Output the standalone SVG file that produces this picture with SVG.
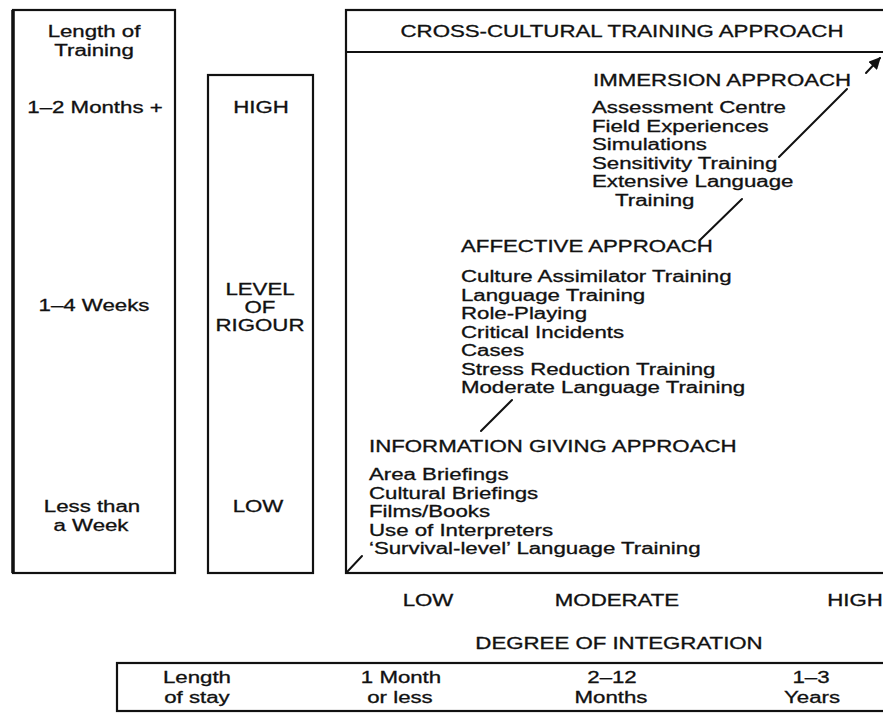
<svg xmlns="http://www.w3.org/2000/svg" width="883" height="713" viewBox="0 0 883 713">
<style>
text{font-family:"Liberation Sans",Arial,sans-serif;font-size:16px;fill:#111;stroke:#111;stroke-width:0.3}
.m{text-anchor:middle}
.box{fill:none;stroke:#111;stroke-width:2.2}
.ln{stroke:#111;stroke-width:2;fill:none;stroke-linecap:round}
</style>
<defs>
<marker id="ah" viewBox="0 0 10 10" refX="9" refY="5" markerWidth="6" markerHeight="6" orient="auto" markerUnits="strokeWidth">
<path d="M0,0 L10,5 L0,10 z" fill="#111"/>
</marker>
</defs>
<rect width="883" height="713" fill="#fff"/>

<g id="length-of-training">
<rect class="box" x="13" y="10" width="162" height="563"/>
<line x1="13" y1="10" x2="13" y2="573" stroke="#111" stroke-width="3.5"/>
<text class="m" transform="translate(94,37) scale(1.39,1)">Length of</text>
<text class="m" transform="translate(94,55.5) scale(1.39,1)">Training</text>
<text class="m" transform="translate(95,113) scale(1.39,1)">1–2 Months +</text>
<text class="m" transform="translate(94,310.5) scale(1.39,1)">1–4 Weeks</text>
<text class="m" transform="translate(92,512) scale(1.39,1)">Less than</text>
<text class="m" transform="translate(91,530.5) scale(1.39,1)">a Week</text>
</g>

<g id="level-of-rigour">
<rect class="box" x="208" y="75" width="105" height="498"/>
<text class="m" transform="translate(261,113) scale(1.39,1)">HIGH</text>
<text class="m" transform="translate(260,295) scale(1.39,1)">LEVEL</text>
<text class="m" transform="translate(260,313) scale(1.39,1)">OF</text>
<text class="m" transform="translate(260,331) scale(1.39,1)">RIGOUR</text>
<text class="m" transform="translate(258,512) scale(1.39,1)">LOW</text>
</g>

<g id="cross-cultural-training-approach">
<rect class="box" x="346" y="10" width="545" height="563"/>
<line x1="346" y1="52" x2="891" y2="52" stroke="#111" stroke-width="2"/>
<text class="m" transform="translate(622,37) scale(1.39,1)">CROSS-CULTURAL TRAINING APPROACH</text>
</g>

<g id="immersion-approach">
<text transform="translate(593,86) scale(1.39,1)">IMMERSION APPROACH</text>
<text transform="translate(592,113) scale(1.39,1)">Assessment Centre</text>
<text transform="translate(592,131.5) scale(1.39,1)">Field Experiences</text>
<text transform="translate(592,150) scale(1.39,1)">Simulations</text>
<text transform="translate(592,168.5) scale(1.39,1)">Sensitivity Training</text>
<text transform="translate(592,187) scale(1.39,1)">Extensive Language</text>
<text transform="translate(615,205.5) scale(1.39,1)">Training</text>
</g>

<g id="affective-approach">
<text transform="translate(461,252) scale(1.39,1)">AFFECTIVE APPROACH</text>
<text transform="translate(461,282) scale(1.39,1)">Culture Assimilator Training</text>
<text transform="translate(461,300.5) scale(1.39,1)">Language Training</text>
<text transform="translate(461,319) scale(1.39,1)">Role-Playing</text>
<text transform="translate(461,337.5) scale(1.39,1)">Critical Incidents</text>
<text transform="translate(461,356) scale(1.39,1)">Cases</text>
<text transform="translate(461,374.5) scale(1.39,1)">Stress Reduction Training</text>
<text transform="translate(461,393) scale(1.39,1)">Moderate Language Training</text>
</g>

<g id="information-giving-approach">
<text transform="translate(369,452) scale(1.39,1)">INFORMATION GIVING APPROACH</text>
<text transform="translate(369,480) scale(1.39,1)">Area Briefings</text>
<text transform="translate(369,498.5) scale(1.39,1)">Cultural Briefings</text>
<text transform="translate(369,517) scale(1.39,1)">Films/Books</text>
<text transform="translate(369,535.5) scale(1.39,1)">Use of Interpreters</text>
<text transform="translate(369,554) scale(1.39,1)">‘Survival-level’ Language Training</text>
</g>

<g id="degree-of-integration">
<text class="m" transform="translate(428,606) scale(1.39,1)">LOW</text>
<text class="m" transform="translate(617,606) scale(1.39,1)">MODERATE</text>
<text class="m" transform="translate(855,606) scale(1.39,1)">HIGH</text>
<text class="m" transform="translate(619,649) scale(1.39,1)">DEGREE OF INTEGRATION</text>
</g>

<g id="length-of-stay">
<rect class="box" x="117" y="663" width="780" height="48"/>
<text class="m" transform="translate(197,683) scale(1.39,1)">Length</text>
<text class="m" transform="translate(197,703) scale(1.39,1)">of stay</text>
<text class="m" transform="translate(401,683) scale(1.39,1)">1 Month</text>
<text class="m" transform="translate(400,703) scale(1.39,1)">or less</text>
<text class="m" transform="translate(612,683) scale(1.39,1)">2–12</text>
<text class="m" transform="translate(611,703) scale(1.39,1)">Months</text>
<text class="m" transform="translate(811,683) scale(1.39,1)">1–3</text>
<text class="m" transform="translate(812,703) scale(1.39,1)">Years</text>
</g>

<g id="connectors">
<line class="ln" x1="347" y1="572" x2="362" y2="556"/>
<line class="ln" x1="481" y1="431" x2="512" y2="400"/>
<line class="ln" x1="700" y1="240" x2="742" y2="199"/>
<line class="ln" x1="779" y1="157" x2="847" y2="89"/>
<line class="ln" x1="866" y1="73" x2="880" y2="58" marker-end="url(#ah)"/>
</g>
</svg>
